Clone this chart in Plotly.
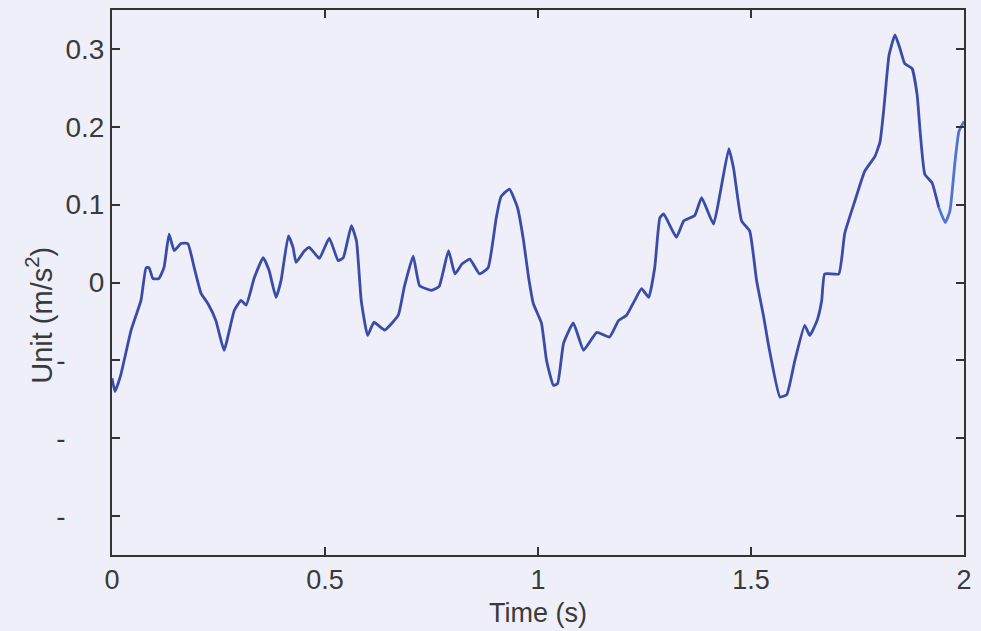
import plotly.graph_objects as go

# Time (s) and acceleration values (m/s^2)
time = [0.0, 0.007, 0.02, 0.045, 0.068, 0.08, 0.087, 0.096, 0.11, 0.122, 0.134, 0.146, 0.162, 0.178,
        0.193, 0.209, 0.225, 0.244, 0.263, 0.287, 0.303, 0.315, 0.334, 0.355, 0.369, 0.385,
        0.397, 0.414, 0.425, 0.432, 0.451, 0.463, 0.475, 0.487, 0.51, 0.531, 0.543, 0.562, 0.574,
        0.585, 0.6, 0.615, 0.64, 0.672, 0.686, 0.707, 0.722, 0.75, 0.768, 0.79, 0.805, 0.822,
        0.84, 0.863, 0.883, 0.902, 0.913, 0.933, 0.952, 0.966, 0.978, 0.989, 1.008, 1.02, 1.036,
        1.046, 1.06, 1.083, 1.107, 1.138, 1.168, 1.189, 1.208, 1.227, 1.243, 1.26, 1.274, 1.286,
        1.295, 1.325, 1.342, 1.368, 1.384, 1.412, 1.427, 1.448, 1.459, 1.478, 1.497, 1.513, 1.53,
        1.542, 1.568, 1.584, 1.603, 1.626, 1.638, 1.655, 1.666, 1.673, 1.706, 1.72, 1.744, 1.767,
        1.791, 1.803, 1.812, 1.824, 1.838, 1.85, 1.861, 1.878, 1.89, 1.897, 1.908, 1.925, 1.941,
        1.956, 1.967, 1.979, 1.988, 2.0]
accel = [-0.123, -0.14, -0.12, -0.061, -0.023, 0.019, 0.019, 0.005, 0.005, 0.019, 0.062, 0.041, 0.05, 0.05,
         0.019, -0.014, -0.027, -0.049, -0.087, -0.036, -0.023, -0.029, 0.006, 0.032, 0.015, -0.019,
         0.003, 0.06, 0.045, 0.026, 0.04, 0.045, 0.038, 0.031, 0.057, 0.028, 0.032, 0.073, 0.053,
         -0.023, -0.068, -0.051, -0.061, -0.042, -0.006, 0.034, -0.004, -0.01, -0.005, 0.041, 0.011, 0.024,
         0.03, 0.011, 0.019, 0.083, 0.11, 0.12, 0.096, 0.054, 0.006, -0.027, -0.052, -0.1, -0.132,
         -0.13, -0.078, -0.052, -0.087, -0.064, -0.07, -0.049, -0.042, -0.023, -0.008, -0.019, 0.019, 0.083,
         0.088, 0.058, 0.079, 0.086, 0.109, 0.075, 0.113, 0.172, 0.147, 0.079, 0.066, 0.003, -0.045,
         -0.083, -0.147, -0.144, -0.1, -0.055, -0.068, -0.049, -0.023, 0.011, 0.011, 0.063, 0.105, 0.143,
         0.162, 0.181, 0.224, 0.292, 0.318, 0.3, 0.281, 0.275, 0.241, 0.194, 0.139, 0.128, 0.096,
         0.077, 0.092, 0.156, 0.194, 0.207]

x_ticks = [0, 0.5, 1, 1.5, 2]
x_ticklabels = ["0", "0.5", "1", "1.5", "2"]
y_ticks = [-0.3, -0.2, -0.1, 0, 0.1, 0.2, 0.3]
y_ticklabels = ["-" + "\u00a0" * 5, "-" + "\u00a0" * 5, "-" + "\u00a0" * 5, "0", "0.1", "0.2", "0.3"]

BG = "#eeeff9"
AX = "#333333"
FONT = "Liberation Sans, Arial, sans-serif"

split = time.index(1.941)

fig = go.Figure()
fig.add_trace(go.Scatter(x=time[:split + 1], y=accel[:split + 1], mode="lines",
                         line=dict(color="#3b4ca8", width=2.8, shape="spline", smoothing=0.4),
                         showlegend=False))
fig.add_trace(go.Scatter(x=time[split:], y=accel[split:], mode="lines",
                         line=dict(color="#5074d2", width=2.8, shape="spline", smoothing=0.4),
                         showlegend=False))

fig.update_layout(
    width=981, height=631,
    margin=dict(l=112, r=17, t=8, b=76),
    paper_bgcolor=BG, plot_bgcolor=BG,
    font=dict(family=FONT, size=28, color="#3a3a3a"),
    xaxis=dict(range=[0, 2], tickvals=x_ticks, ticktext=x_ticklabels,
               showgrid=False, zeroline=False, showline=True, linecolor=AX, linewidth=2,
               mirror="ticks", ticks="inside", ticklen=8, tickwidth=2, tickcolor=AX,
               tickfont=dict(size=27)),
    yaxis=dict(range=[-0.35, 0.35], tickvals=y_ticks, ticktext=y_ticklabels,
               showgrid=False, zeroline=False, showline=True, linecolor=AX, linewidth=2,
               mirror="ticks", ticks="inside", ticklen=8, tickwidth=2, tickcolor=AX,
               tickfont=dict(size=28)),
    annotations=[
        dict(text="Time (s)", x=0.5, y=-0.076, xref="paper", yref="paper",
             xanchor="center", yanchor="top", showarrow=False, font=dict(size=27)),
        dict(text="Unit (m/s<sup>2</sup>)", x=-0.085, y=0.44, xref="paper", yref="paper",
             xanchor="center", yanchor="middle", textangle=-90, showarrow=False,
             font=dict(size=29)),
    ],
)

fig.write_html("out.html")
